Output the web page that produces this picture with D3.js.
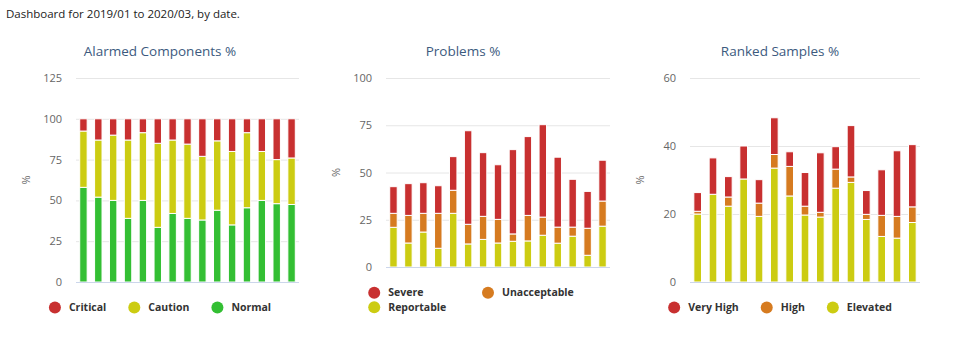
<!DOCTYPE html>
<html>
<head>
<meta charset="utf-8">
<script src="https://cdn.jsdelivr.net/npm/d3@7"></script>
<style>
  body { margin: 0; background: #fff; }
  svg text { font-family: "Open Sans", "Noto Sans", sans-serif; }
</style>
</head>
<body>
<svg id="dash" width="955" height="341"></svg>
<script>
// months on the x axis (labels hidden in the dashboard)
const months = ["2019/01","2019/02","2019/03","2019/04","2019/05","2019/06","2019/07","2019/08",
                "2019/09","2019/10","2019/11","2019/12","2020/01","2020/02","2020/03"];

// Alarmed Components %
const normal   = [58, 52, 50, 39, 50, 33.5, 42, 39, 38, 44, 35, 45.5, 50, 48, 47.5];
const caution  = [34.5, 35, 40, 48, 41.5, 51.5, 45, 45.5, 39, 42.5, 45, 46, 30, 27, 28.5];
const critical = [7.5, 13, 10, 13, 8.5, 15, 13, 15.5, 23, 13.5, 20, 8.5, 20, 25, 24];
const alarmTicks = [0, 25, 50, 75, 100, 125];

// Problems %
const reportable   = [21, 12.7, 18.5, 9.9, 28.4, 12.2, 14.6, 12.7, 13.6, 13.8, 16.8, 12.6, 16.3, 6.2, 21.6];
const unacceptable = [7.4, 14.6, 9.9, 18.5, 12.2, 10.4, 12.2, 12.5, 3.9, 13.5, 9.6, 8.5, 4.8, 14.3, 13.3];
const severe       = [14.1, 16.8, 16.2, 14.6, 17.8, 49.5, 33.7, 28.9, 44.6, 41.7, 48.9, 37, 25.3, 19.5, 21.6];
const problemTicks = [0, 25, 50, 75, 100];

// Ranked Samples %
const elevated = [20, 25.8, 22.3, 30.3, 19.3, 33.5, 25.3, 19.7, 19.1, 27.6, 29.3, 18.4, 13.4, 12.9, 17.5];
const high     = [0.8, 0, 2.7, 0, 3.9, 4, 8.7, 2.6, 1.4, 5.6, 1.6, 1.5, 6.2, 6.4, 4.6];
const veryHigh = [5.5, 10.7, 6, 9.7, 6.9, 10.8, 4.3, 9.9, 17.5, 6.6, 15.1, 7, 13.4, 19.3, 18.3];
const rankTicks = [0, 20, 40, 60];

const RED = "#c83030", YELLOW = "#cccc12", GREEN = "#33bf33", ORANGE = "#d67b20";

var svg = d3.select("#dash");

// header line
svg.append("text")
  .attr("x", 6).attr("y", 18)
  .style("font-size", "11.5px").style("fill", "#222")
  .text("Dashboard for 2019/01 to 2020/03, by date.");

function drawChart(cfg) {
  var g = svg.append("g");

  // title
  g.append("text")
    .attr("x", cfg.center).attr("y", 56)
    .attr("text-anchor", "middle")
    .style("font-size", "13.5px").style("fill", "#3c5a7e")
    .text(cfg.title);

  var x = d3.scaleBand().domain(months)
    .range([cfg.left, cfg.right]).paddingInner(0.5).paddingOuter(0.25);
  var y = d3.scaleLinear().domain([0, d3.max(cfg.ticks)])
    .range([cfg.bottom, 78]);

  // gridlines + tick labels
  var yAxis = d3.axisLeft(y).tickValues(cfg.ticks)
    .tickSize(-(cfg.right - cfg.left)).tickPadding(14);
  var ax = g.append("g")
    .attr("transform", "translate(" + cfg.left + ",0)")
    .call(yAxis);
  ax.select(".domain").remove();
  ax.selectAll(".tick line").attr("stroke", "#e6e6e6");
  ax.selectAll(".tick text").style("font-size", "11px").style("fill", "#666");

  // "%" axis title
  g.append("text")
    .attr("transform", "translate(" + (cfg.left - 46) + "," + ((cfg.bottom + 78) / 2) + ") rotate(-90)")
    .attr("text-anchor", "middle")
    .style("font-size", "11px").style("fill", "#666")
    .text("%");

  // stacked bars (bottom series first)
  var rows = months.map(function(m, i) {
    var r = { month: m };
    cfg.series.forEach(function(s) { r[s.name] = s.values[i]; });
    return r;
  });
  var stack = d3.stack().keys(cfg.series.map(function(s) { return s.name; }));
  var layers = stack(rows);

  g.selectAll(".layer")
    .data(layers)
    .enter().append("g")
    .attr("fill", function(d, i) { return cfg.series[i].color; })
    .selectAll("rect")
    .data(function(d) { return d.filter(function(p) { return p[1] > p[0]; }); })
    .enter().append("rect")
    .attr("x", function(d) { return x(d.data.month); })
    .attr("width", x.bandwidth())
    .attr("y", function(d) { return y(d[1]); })
    .attr("height", function(d) { return y(d[0]) - y(d[1]); })
    .attr("stroke", "#fff")
    .attr("stroke-width", 1);

  // x baseline
  g.append("line")
    .attr("x1", cfg.left).attr("x2", cfg.right)
    .attr("y1", y(0) + 0.5).attr("y2", y(0) + 0.5)
    .attr("stroke", "#ccd6eb");

  // legend
  var leg = g.append("g");
  var items = cfg.legend.map(function(name) {
    var s = cfg.series.find(function(t) { return t.name === name; });
    var it = leg.append("g");
    it.append("circle").attr("r", 6).attr("cx", 6).attr("fill", s.color);
    var t = it.append("text").attr("x", 20).attr("dy", "0.35em")
      .style("font-size", "10.5px").style("font-weight", "bold").style("fill", "#333")
      .text(name);
    return { g: it, w: 20 + t.node().getComputedTextLength() };
  });
  var dist = 22;
  var total = d3.sum(items, function(d) { return d.w; }) + dist * (items.length - 1);
  if (total <= cfg.legendMax) {
    var cx = cfg.center - total / 2;
    items.forEach(function(it) {
      it.g.attr("transform", "translate(" + cx + "," + cfg.legendY + ")");
      cx += it.w + dist;
    });
  } else {
    var colW = d3.max(items, function(d) { return d.w; }) + dist;
    var boxW = colW + items[1].w;
    var x0 = cfg.legendCenter - boxW / 2;
    items.forEach(function(it, i) {
      it.g.attr("transform", "translate(" + (x0 + (i % 2) * colW) + "," +
        (cfg.legendY + Math.floor(i / 2) * 14.6) + ")");
    });
  }
}

drawChart({
  title: "Alarmed Components %", center: 160,
  left: 76, right: 299, bottom: 282, ticks: alarmTicks,
  series: [
    { name: "Normal", values: normal, color: GREEN },
    { name: "Caution", values: caution, color: YELLOW },
    { name: "Critical", values: critical, color: RED }
  ],
  legend: ["Critical", "Caution", "Normal"], legendY: 307.5, legendMax: 240
});

drawChart({
  title: "Problems %", center: 463,
  left: 386, right: 610, bottom: 267, ticks: problemTicks,
  series: [
    { name: "Reportable", values: reportable, color: YELLOW },
    { name: "Unacceptable", values: unacceptable, color: ORANGE },
    { name: "Severe", values: severe, color: RED }
  ],
  legend: ["Severe", "Unacceptable", "Reportable"], legendY: 292.7, legendMax: 240, legendCenter: 471
});

drawChart({
  title: "Ranked Samples %", center: 780,
  left: 690, right: 920, bottom: 282, ticks: rankTicks,
  series: [
    { name: "Elevated", values: elevated, color: YELLOW },
    { name: "High", values: high, color: ORANGE },
    { name: "Very High", values: veryHigh, color: RED }
  ],
  legend: ["Very High", "High", "Elevated"], legendY: 307.5, legendMax: 240
});
</script>
</body>
</html>
